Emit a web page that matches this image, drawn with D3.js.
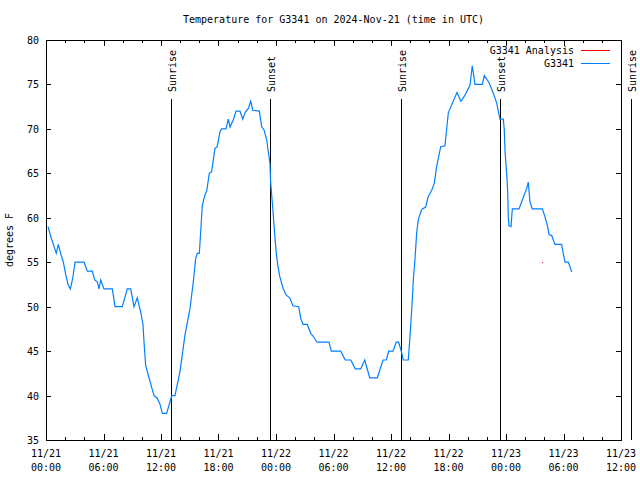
<!DOCTYPE html>
<html>
<head>
<meta charset="utf-8">
<script src="https://cdn.jsdelivr.net/npm/d3@7"></script>
<style>
html,body{margin:0;padding:0;background:#fff;}
svg{display:block;}
text{font-family:"DejaVu Sans Mono","Liberation Mono",monospace;font-size:10px;fill:#000;}
</style>
</head>
<body>
<script>
// ---- data (hours after 2024-11-21 00:00 UTC, degrees F) ----
const hours = [0.21,0.55,0.83,1.07,1.28,1.53,1.81,2.06,2.30,2.54,2.79,3.03,3.97,4.31,4.83,5.08,5.35,5.53,5.71,6.05,6.92,7.20,7.96,8.48,8.84,9.18,9.53,9.88,10.12,10.23,10.40,10.75,11.27,11.61,11.90,12.14,12.59,12.94,13.12,13.46,13.98,14.50,15.03,15.37,15.62,15.79,16.00,16.14,16.31,16.59,16.77,17.04,17.29,17.63,17.87,18.16,18.33,18.78,19.02,19.20,19.54,19.83,20.24,20.53,20.80,21.11,21.36,21.57,22.26,22.51,22.75,23.03,23.20,23.37,23.44,23.66,23.85,24.03,24.21,24.39,24.73,25.07,25.43,25.77,26.37,26.58,26.82,27.27,27.62,27.86,28.28,29.53,29.77,30.75,31.23,31.80,32.27,32.84,33.26,33.78,34.57,35.17,35.51,35.76,36.21,36.55,36.80,37.07,37.28,37.80,37.98,38.16,38.33,38.50,38.68,38.85,39.13,39.27,39.62,39.89,40.25,40.52,40.77,40.94,41.19,41.63,41.98,42.33,42.68,42.89,43.30,43.72,44.24,44.48,44.76,45.53,45.74,46.23,46.68,47.03,47.37,47.72,47.82,47.90,48.07,48.18,48.24,48.31,48.52,48.66,49.36,49.64,49.91,50.16,50.33,50.50,50.74,51.79,52.07,52.35,52.49,52.77,53.11,53.81,53.97,54.16,54.50,54.68,54.86];
const temps = [59,57.7,56.8,56,57,56,55,53.6,52.5,52,53.2,55,55,54,54,53,52.8,52,53,52,52,50,50,52,52,50,51,49.4,48,46,43.4,42,40,39.7,39,38,38,39.3,40,40,42.7,46.8,49.8,52.8,55.4,56,56,58.4,61.4,62.6,63,65,65.2,67.8,68,69.7,70,70,71.1,70.2,71,72,72,71.1,71.9,72.3,73.1,72.1,72,70.2,69.9,68.75,67.4,66.1,64,61.1,58.3,56,54.5,53.4,52.1,51.3,51,50.1,50,48.7,48,48,47,46.7,46,46,45,45,44,44,43,43,44,42,42,44,44,45,45,46,46,45,44,44,46.6,49.6,53,55.3,58.3,59.8,60.7,61,61.2,62.4,63.1,63.9,65.8,66.7,68,68.1,71.8,72.7,73.6,74.1,73.1,73.8,74.9,77.1,75,75,76,75.2,74,72.9,71.1,71.1,69.9,67.4,65,62.8,60.1,59.1,59,61,61,61.8,62.6,63.3,64,61.8,61,61,60.1,59,58.1,58,57,57,56,55,55,54.5,53.9];
const analysisHours = [51.79];
const analysisTemps = [55];
const sunLabels = ["Sunrise","Sunset","Sunrise","Sunset","Sunrise"];
const sunHours = [13.04,23.41,37.07,47.42,61.07];
const xTickHours = [0,6,12,18,24,30,36,42,48,54,60];
const xTickLabels = [["11/21","00:00"],["11/21","06:00"],["11/21","12:00"],["11/21","18:00"],["11/22","00:00"],["11/22","06:00"],["11/22","12:00"],["11/22","18:00"],["11/23","00:00"],["11/23","06:00"],["11/23","12:00"]];
const xMinorHours = d3.range(0, 61, 2).filter(h => h % 6 !== 0);
const yTicks = [35,40,45,50,55,60,65,70,75,80];
const seriesNames = ["G3341 Analysis","G3341"];
const seriesColors = ["#ff0000","#0080ff"];

const W = 640, H = 480;
const L = 46, R = 621, T = 40, B = 440;

const svg = d3.select("body").append("svg").attr("width", W).attr("height", H);
const x = d3.scaleLinear().domain([0, 60]).range([L, R]);
const y = d3.scaleLinear().domain([35, 80]).range([B, T]);

// title
svg.append("text").attr("x", (L + R) / 2).attr("y", 23).attr("text-anchor", "middle")
  .text("Temperature for G3341 on 2024-Nov-21 (time in UTC)");

// y label
svg.append("text").attr("transform", "translate(13,240) rotate(-90)").attr("text-anchor", "middle")
  .text("degrees F");

const g = svg.append("g").attr("shape-rendering", "crispEdges");

// y ticks (left and right)
yTicks.forEach(v => {
  const yy = Math.round(y(v)) + 0.5;
  if (v > 35 && v < 80) {
    g.append("line").attr("x1", L).attr("x2", L + 5).attr("y1", yy).attr("y2", yy).attr("stroke", "#000");
    g.append("line").attr("x1", R - 5).attr("x2", R).attr("y1", yy).attr("y2", yy).attr("stroke", "#000");
  }
  svg.append("text").attr("x", 39).attr("y", y(v) + 4).attr("text-anchor", "end").text(v);
});

// x ticks
xTickHours.forEach((h, i) => {
  const xx = Math.round(x(h)) + 0.5;
  if (h > 0 && h < 60) {
    g.append("line").attr("x1", xx).attr("x2", xx).attr("y1", B).attr("y2", B - 6).attr("stroke", "#000");
    g.append("line").attr("x1", xx).attr("x2", xx).attr("y1", T).attr("y2", T + 6).attr("stroke", "#000");
  }
  const t = svg.append("text").attr("text-anchor", "middle");
  t.append("tspan").attr("x", x(h)).attr("y", 457).text(xTickLabels[i][0]);
  t.append("tspan").attr("x", x(h)).attr("y", 471).text(xTickLabels[i][1]);
});
xMinorHours.forEach(h => {
  const xx = Math.round(x(h)) + 0.5;
  g.append("line").attr("x1", xx).attr("x2", xx).attr("y1", B).attr("y2", B - 3).attr("stroke", "#000");
  g.append("line").attr("x1", xx).attr("x2", xx).attr("y1", T).attr("y2", T + 3).attr("stroke", "#000");
});

// frame
g.append("rect").attr("x", L + 0.5).attr("y", T + 0.5).attr("width", R - L).attr("height", B - T)
  .attr("fill", "none").attr("stroke", "#000");

// sun lines
sunLabels.forEach((lab, i) => {
  const xx = Math.round(x(sunHours[i])) + 0.5;
  g.append("line").attr("x1", xx).attr("x2", xx).attr("y1", B).attr("y2", 99).attr("stroke", "#000");
  svg.append("text").attr("transform", `translate(${xx + 4},92) rotate(-90)`).attr("text-anchor", "start").text(lab);
});

// data line
const pts = hours.map((h, i) => [h, temps[i]]);
svg.append("path").datum(pts)
  .attr("d", d3.line().x(d => x(d[0])).y(d => y(d[1])))
  .attr("fill", "none").attr("stroke", seriesColors[1]).attr("stroke-width", 1.2);

// analysis points
analysisHours.forEach((h, i) => {
  svg.append("rect").attr("x", Math.round(x(h))).attr("y", Math.round(y(analysisTemps[i])))
    .attr("width", 1).attr("height", 1).attr("fill", seriesColors[0]);
});

// legend
seriesNames.forEach((n, i) => {
  const ly = 50 + i * 12.5;
  svg.append("text").attr("x", 574).attr("y", ly + 4).attr("text-anchor", "end").text(n);
  g.append("line").attr("x1", 581).attr("x2", 610).attr("y1", Math.round(ly) + 0.5).attr("y2", Math.round(ly) + 0.5)
    .attr("stroke", seriesColors[i]);
});
</script>
</body>
</html>
